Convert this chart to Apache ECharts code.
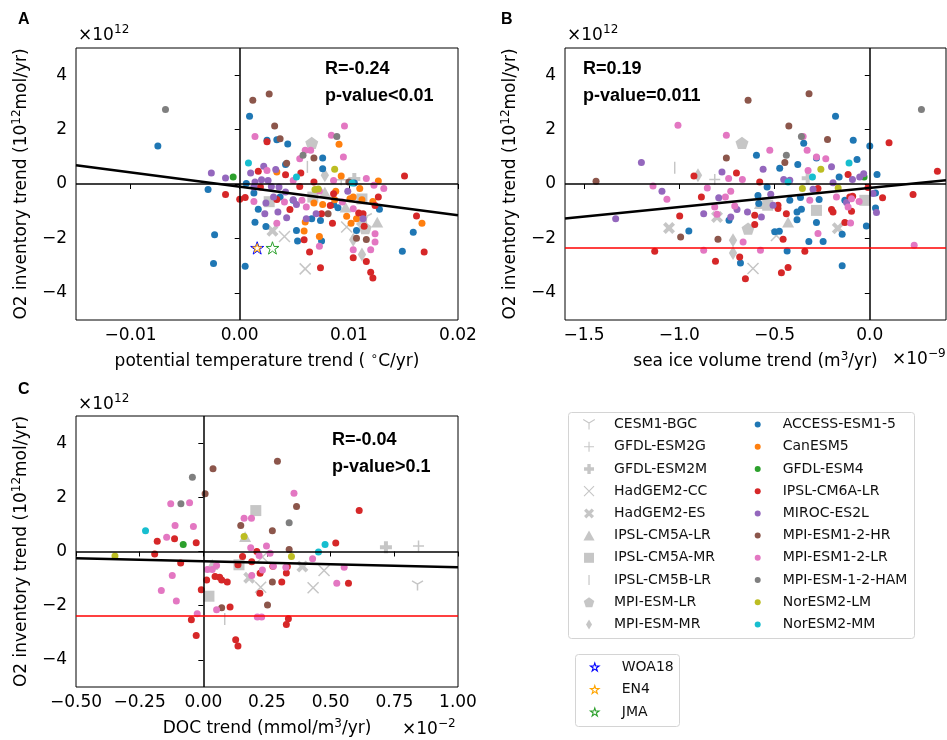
<!DOCTYPE html>
<html><head><meta charset="utf-8">
<script src="https://cdn.jsdelivr.net/npm/echarts@6/dist/echarts.min.js"></script>
<style>html,body{margin:0;padding:0;background:#fff}#chart{width:947px;height:740px}</style>
</head><body><div id="chart"></div>
<script>
// ---------- axes / ticks ----------
const xRangeA = [-0.015, 0.02];
const xRangeB = [-1.6, 0.4];
const xRangeC = [-0.5, 1.0];
const yRange = [-5, 5];
const xTicksA = [-0.01, 0.00, 0.01, 0.02];
const xTicksB = [-1.5, -1.0, -0.5, 0.0];
const xTicksC = [-0.50, -0.25, 0.00, 0.25, 0.50, 0.75, 1.00];
const yTicks = [-4, -2, 0, 2, 4];

// ---------- statistics & fits ----------
const statsA = ['R=-0.24', 'p-value<0.01'];
const statsB = ['R=0.19', 'p-value=0.011'];
const statsC = ['R=-0.04', 'p-value>0.1'];
const fitA = [[-0.015, 0.69], [0.02, -1.15]];
const fitB = [[-1.6, -1.27], [0.4, 0.14]];
const fitC = [[-0.5, -0.25], [1.0, -0.58]];
const obsO2Trend = -2.36;

// ---------- legend names ----------
const cmip5Names = ['CESM1-BGC','GFDL-ESM2G','GFDL-ESM2M','HadGEM2-CC','HadGEM2-ES','IPSL-CM5A-LR','IPSL-CM5A-MR','IPSL-CM5B-LR','MPI-ESM-LR','MPI-ESM-MR'];
const cmip6Names = ['ACCESS-ESM1-5','CanESM5','GFDL-ESM4','IPSL-CM6A-LR','MIROC-ES2L','MPI-ESM1-2-HR','MPI-ESM1-2-LR','MPI-ESM-1-2-HAM','NorESM2-LM','NorESM2-MM'];
const obsNames = ['WOA18','EN4','JMA'];

// ---------- panel A (potential temperature trend) ----------
const A_CESM = [[0.0116,-1.26]];
const A_GFDL2G = [[0.0093,0.16]];
const A_GFDL2M = [[0.0105,0.18]];
const A_HADCC = [[0.0041,-1.93],[0.0060,-3.12],[0.0098,-1.58]];
const A_HADES = [[0.0030,-1.72],[0.0112,-1.35]];
const A_CM5ALR = [[0.0126,-1.40],[0.0097,-0.85],[0.0078,-0.30]];
const A_CM5AMR = [[0.0067,-0.48],[0.0112,-0.55],[0.0027,-0.65]];
const A_CM5BLR = [[0.0062,0.63]];
const A_MPIESMLR = [[0.0066,1.51],[0.0115,-1.62]];
const A_MPIESMMR = [[0.0078,0.32],[0.0104,-2.05],[0.0112,-2.59]];
const A_ACCESS = [[-0.0075,1.40],[-0.0029,-0.20],[-0.0023,-1.87],[-0.0024,-2.92],[0.0009,2.49],[0.0025,1.61],[0.0034,1.63],[0.0044,1.47],[0.0005,-3.02],[0.0014,-1.41],[0.0017,-0.93],[0.0024,-1.56],[0.0013,-0.33],[0.0006,0.02],[0.0052,-1.71],[0.0053,-2.10],[0.0076,0.96],[0.0076,0.56],[0.0074,-1.34],[0.0075,-2.10],[0.0107,-1.71],[0.0128,-0.93],[0.0149,-2.47],[0.0159,-1.77],[0.0042,0.72],[0.0066,-1.28],[0.0086,-0.75],[0.0105,0.04],[0.0049,-0.60],[0.0037,-0.48],[0.0090,-0.87]];
const A_CAN = [[0.0091,1.46],[0.0093,0.29],[0.0127,0.11],[0.0167,-1.44],[0.0059,-1.73],[0.0073,-1.93],[0.0060,-1.40],[0.0068,-0.70],[0.0076,-0.75],[0.0088,-0.27],[0.0098,-1.19],[0.0102,-1.44],[0.0110,-0.17],[0.0104,-0.48],[0.0112,-0.58],[0.0107,-1.28],[0.0034,0.44],[0.0087,-0.58],[0.0122,-0.64],[0.0101,-0.54]];
const A_GFDL4 = [[-0.0006,0.26]];
const A_IPSL6 = [[-0.0013,-0.39],[0.0000,-0.56],[0.0005,-0.50],[0.0017,0.47],[0.0025,1.55],[0.0042,0.34],[0.0056,0.40],[0.0068,0.07],[0.0151,0.29],[0.0162,-1.18],[0.0169,-2.50],[0.0127,-0.48],[0.0109,-1.07],[0.0114,-1.55],[0.0116,-2.85],[0.0120,-3.24],[0.0122,-3.46],[0.0104,-2.71],[0.0074,-3.08],[0.0064,-2.50],[0.0059,-2.05],[0.0085,-1.44],[0.0083,-0.79],[0.0034,-0.57],[0.0046,-0.94],[0.0055,-0.09],[0.0075,-1.09],[0.0124,-0.79],[0.0019,-0.11],[0.0113,-1.09],[0.0086,-0.36]];
const A_MIROC = [[-0.0026,0.40],[-0.0013,0.22],[0.0010,0.40],[0.0022,0.65],[0.0033,0.53],[0.0014,0.07],[0.0020,0.16],[0.0026,0.13],[0.0029,-0.09],[0.0036,-0.11],[0.0042,-0.29],[0.0031,-0.48],[0.0024,-0.70],[0.0023,-1.09],[0.0035,-1.03],[0.0043,-1.24],[0.0049,-0.58],[0.0052,-0.75],[0.0061,-1.28],[0.0070,-1.09],[0.0099,-0.27],[0.0113,-1.28],[0.0013,-0.11]];
const A_MPIHR = [[0.0012,3.08],[0.0027,3.31],[0.0032,2.13],[0.0037,1.66],[0.0043,0.76],[0.0068,0.96],[0.0107,-1.99],[0.0116,-2.04],[0.0100,0.07],[0.0081,-1.09]];
const A_MPILR = [[0.0014,1.75],[0.0096,2.13],[0.0084,1.79],[0.0095,0.99],[0.0060,1.24],[0.0065,1.24],[0.0055,0.93],[0.0013,-0.64],[0.0041,-0.66],[0.0057,-0.60],[0.0073,-0.26],[0.0094,-0.66],[0.0116,0.20],[0.0132,-0.17],[0.0123,-0.05],[0.0073,-2.29],[0.0104,-2.42],[0.0120,-2.42],[0.0124,-1.83],[0.0104,-0.91],[0.0034,-1.44],[0.0025,0.50],[0.0049,0.13],[0.0086,0.13],[0.0061,-0.85],[0.0124,-2.13]];
const A_HAM = [[-0.0068,2.74],[0.0089,1.75],[0.0058,1.06]];
const A_NORLM = [[0.0087,0.54],[0.0069,-0.20],[0.0072,-0.18]];
const A_NORMM = [[0.0008,0.77],[0.0052,0.26],[0.0103,0.04]];
const A_WOA18 = [[0.0016,-2.35]];
const A_EN4 = [[0.0016,-2.35]];
const A_JMA = [[0.0030,-2.35]];

// ---------- panel B (sea ice volume trend) ----------
const B_GFDL2G = [[-0.814,0.17]];
const B_GFDL2M = [[-0.326,0.21]];
const B_HADCC = [[-0.613,-3.11],[-0.49,-1.89]];
const B_HADES = [[-1.054,-1.62],[-0.802,-1.21],[-0.168,-1.63]];
const B_CM5ALR = [[-0.429,-1.40],[-0.577,-0.72]];
const B_CM5AMR = [[-0.28,-0.97],[-0.026,-0.6],[-0.536,-0.78]];
const B_CM5BLR = [[-1.024,0.6]];
const B_MPIESMLR = [[-0.671,1.51],[-0.639,-1.64]];
const B_MPIESMMR = [[-0.902,0.32],[-0.718,-2.07],[-0.718,-2.54]];
const B_ACCESS = [[-0.18,2.49],[-0.087,1.61],[0,1.40],[-0.347,1.50],[-0.595,1.06],[-0.378,0.72],[-0.473,0.58],[-0.28,0.96],[-0.067,0.90],[-0.161,0.26],[0.038,0.35],[-0.539,-0.11],[-0.587,-0.42],[-0.42,-0.6],[-0.364,-0.5],[-0.266,-0.57],[-0.359,-0.93],[-0.382,-1.03],[-0.131,-0.6],[0.03,-0.33],[0.03,-0.88],[-0.018,-1.54],[-0.145,-1.85],[-0.28,-1.42],[-0.382,-1.31],[-0.499,-1.76],[-0.475,-1.74],[-0.32,-2.11],[-0.245,-2.11],[-0.434,-2.46],[-0.145,-3.01],[-0.583,-0.72],[-0.95,-1.73],[-0.739,-1.33],[-0.679,-2.9]];
const B_GFDL4 = [[-0.03,0.26]];
const B_IPSL6 = [[0.101,1.52],[0.355,0.47],[0.227,-0.39],[0.067,-0.51],[-0.114,0.35],[-0.578,0.07],[-0.482,-0.78],[-0.482,-0.90],[-0.438,-1.09],[-0.604,-1.15],[-0.604,-1.49],[-0.455,-2.03],[-0.341,-2.47],[-0.464,-3.26],[-0.429,-3.07],[-0.272,-0.17],[-0.201,-0.94],[-0.193,-1.03],[-0.105,-0.48],[-0.131,-1.42],[-0.096,-1.0],[-0.923,0.29],[-0.884,-0.48],[-0.70,0.40],[-0.998,-1.18],[-1.129,-2.47],[-0.81,-2.84],[-0.683,-2.68],[-0.653,-3.48],[-0.009,-0.13],[-0.09,-0.45]];
const B_MIROC = [[-0.56,0.54],[-0.201,0.63],[-0.452,0.17],[-0.42,0.14],[-0.091,0.17],[-0.053,0.26],[-0.032,0.38],[-0.193,0.05],[-0.52,-0.38],[-0.569,-1.21],[-0.508,-0.78],[-0.298,-0.19],[0.017,-0.35],[0.035,-1.05],[-0.122,-0.68],[-1.199,0.79],[-1.091,-0.27],[-0.776,0.44],[-0.793,-0.51],[-0.872,-1.09],[-0.73,-1.21],[-0.697,-0.94],[-0.642,-1.03],[-1.334,-1.28]];
const B_MPIHR = [[-1.437,0.10],[-0.639,3.08],[-0.319,3.32],[-0.425,2.13],[-0.222,1.64],[-0.446,0.79],[-0.753,0.96],[-0.993,-1.95],[-0.797,-2.03]];
const B_MPILR = [[-0.525,1.24],[-0.329,1.24],[-0.28,0.99],[-0.231,0.93],[-0.324,0.50],[-0.175,-0.48],[-0.315,-0.6],[-0.096,-0.54],[-0.056,-0.64],[-0.114,-0.85],[-0.101,-1.43],[-0.272,-1.82],[-0.574,-2.44],[0.233,-2.25],[-0.35,1.75],[-1.007,2.16],[-0.753,1.79],[-1.138,-0.07],[-1.065,-0.56],[-0.853,-0.15],[-0.741,0.2],[-0.669,0.17],[-0.73,-0.27],[-0.758,-0.48],[-0.814,-0.85],[-0.709,-0.81],[-0.665,-2.13],[-0.872,-2.44],[-0.802,-1.11]];
const B_HAM = [[0.271,2.74],[-0.359,1.75],[-0.438,1.06]];
const B_NORLM = [[-0.257,0.54],[-0.354,-0.17],[-0.166,-0.15]];
const B_NORMM = [[-0.109,0.77],[-0.301,0.26],[-0.429,0.07]];

// ---------- panel C (DOC trend) ----------
const C_CESM = [[0.841,-1.26]];
const C_GFDL2G = [[0.845,0.2]];
const C_GFDL2M = [[0.717,0.16]];
const C_HADCC = [[0.474,-0.70],[0.431,-1.34],[0.225,-1.32],[0.232,-0.2]];
const C_HADES = [[0.389,-0.55],[0.18,-0.97]];
const C_CM5ALR = [[0.164,0.55],[0.035,-0.48]];
const C_CM5AMR = [[0.206,1.51],[0.14,-0.49],[0.022,-1.65]];
const C_CM5BLR = [[0.084,-2.49]];
const C_GFDL4 = [[-0.079,0.26]];
const C_IPSL6 = [[-0.181,0.38],[-0.191,-0.09],[-0.113,0.47],[-0.089,-0.42],[-0.028,0.32],[-0.008,-1.41],[-0.047,-2.52],[-0.028,-3.10],[0.013,-1.05],[0.046,-0.92],[0.064,-0.95],[0.072,-1.05],[0.094,-1.13],[0.136,-0.49],[0.154,-0.18],[0.105,-2.05],[0.127,-3.26],[0.136,-3.49],[0.21,0.0],[0.223,-0.80],[0.222,-1.54],[0.273,-0.54],[0.308,-1.13],[0.326,-0.79],[0.33,-0.55],[0.334,-2.48],[0.326,-2.69],[0.52,0.31],[0.57,-1.17],[0.612,1.51],[0.19,-0.38]];
const C_MPIHR = [[0.038,3.05],[0.291,3.33],[0.007,2.13],[0.366,1.66],[0.147,0.96],[0.271,0.77],[0.337,0.07],[0.271,-1.13],[0.252,-1.97],[0.072,-2.08]];
const C_MPILR = [[-0.128,1.76],[-0.054,1.80],[-0.111,0.96],[-0.039,0.92],[-0.144,0.53],[-0.122,-0.89],[-0.165,-1.44],[-0.106,-1.83],[-0.024,-2.30],[0.356,2.15],[0.16,1.23],[0.189,1.23],[0.186,0.14],[0.248,0.2],[0.262,-0.06],[0.219,-0.15],[0.232,-0.68],[0.19,-0.89],[0.275,-0.54],[0.324,-0.58],[0.429,-0.27],[0.524,-1.17],[0.553,-0.58],[0.016,-0.66],[0.035,-0.66],[0.052,-0.52],[0.052,-2.15],[0.212,-2.42],[0.229,-2.42]];
const C_HAM = [[-0.043,2.74],[-0.088,1.76],[0.337,1.06]];
const C_NORLM = [[-0.347,-0.17],[0.16,0.55],[0.346,-0.18]];
const C_NORMM = [[-0.227,0.77],[0.478,0.26],[0.452,-0.02]];

// ---------- tables built from the arrays ----------
const panelData = [
  {'CESM1-BGC':A_CESM,'GFDL-ESM2G':A_GFDL2G,'GFDL-ESM2M':A_GFDL2M,'HadGEM2-CC':A_HADCC,'HadGEM2-ES':A_HADES,'IPSL-CM5A-LR':A_CM5ALR,'IPSL-CM5A-MR':A_CM5AMR,'IPSL-CM5B-LR':A_CM5BLR,'MPI-ESM-LR':A_MPIESMLR,'MPI-ESM-MR':A_MPIESMMR,
   'ACCESS-ESM1-5':A_ACCESS,'CanESM5':A_CAN,'GFDL-ESM4':A_GFDL4,'IPSL-CM6A-LR':A_IPSL6,'MIROC-ES2L':A_MIROC,'MPI-ESM1-2-HR':A_MPIHR,'MPI-ESM1-2-LR':A_MPILR,'MPI-ESM-1-2-HAM':A_HAM,'NorESM2-LM':A_NORLM,'NorESM2-MM':A_NORMM,
   'EN4':A_EN4,'WOA18':A_WOA18,'JMA':A_JMA},
  {'GFDL-ESM2G':B_GFDL2G,'GFDL-ESM2M':B_GFDL2M,'HadGEM2-CC':B_HADCC,'HadGEM2-ES':B_HADES,'IPSL-CM5A-LR':B_CM5ALR,'IPSL-CM5A-MR':B_CM5AMR,'IPSL-CM5B-LR':B_CM5BLR,'MPI-ESM-LR':B_MPIESMLR,'MPI-ESM-MR':B_MPIESMMR,
   'ACCESS-ESM1-5':B_ACCESS,'GFDL-ESM4':B_GFDL4,'IPSL-CM6A-LR':B_IPSL6,'MIROC-ES2L':B_MIROC,'MPI-ESM1-2-HR':B_MPIHR,'MPI-ESM1-2-LR':B_MPILR,'MPI-ESM-1-2-HAM':B_HAM,'NorESM2-LM':B_NORLM,'NorESM2-MM':B_NORMM},
  {'CESM1-BGC':C_CESM,'GFDL-ESM2G':C_GFDL2G,'GFDL-ESM2M':C_GFDL2M,'HadGEM2-CC':C_HADCC,'HadGEM2-ES':C_HADES,'IPSL-CM5A-LR':C_CM5ALR,'IPSL-CM5A-MR':C_CM5AMR,'IPSL-CM5B-LR':C_CM5BLR,
   'GFDL-ESM4':C_GFDL4,'IPSL-CM6A-LR':C_IPSL6,'MPI-ESM1-2-HR':C_MPIHR,'MPI-ESM1-2-LR':C_MPILR,'MPI-ESM-1-2-HAM':C_HAM,'NorESM2-LM':C_NORLM,'NorESM2-MM':C_NORMM}
];
const fits = [fitA, fitB, fitC];
const stats = [statsA, statsB, statsC];

// ---------- styles ----------
const FONT = 'DejaVu Sans';
const GRAY = '#c6c6c6';
const SYM = {
  triDown: 'path://M0,0L0,6M0,0L-5.2,-3M0,0L5.2,-3',
  plus: 'path://M-5,0L5,0M0,-5L0,5',
  plusFilled: 'path://M-2,-6H2V-2H6V2H2V6H-2V2H-6V-2H-2Z',
  x: 'path://M-5,-5L5,5M-5,5L5,-5',
  xFilled: 'path://M2.97,-5.52L5.52,-2.97L2.55,0L5.52,2.97L2.97,5.52L0,2.55L-2.97,5.52L-5.52,2.97L-2.55,0L-5.52,-2.97L-2.97,-5.52L0,-2.55Z',
  vline: 'path://M-0.6,-5L0.6,-5L0.6,5L-0.6,5Z',
  triangle: 'path://M0,-5L5,4L-5,4Z',
  square: 'path://M-5,-5H5V5H-5Z',
  pentagon: 'path://M0,-5L4.76,-1.55L2.94,4.05L-2.94,4.05L-4.76,-1.55Z',
  thinDiamond: 'path://M0,-6L3.6,0L0,6L-3.6,0Z',
  star: 'path://M0,-5L1.12,-1.54L4.76,-1.55L1.81,0.59L2.94,4.05L0,1.9L-2.94,4.05L-1.81,0.59L-4.76,-1.55L-1.12,-1.54Z'
};
const style = {
  'CESM1-BGC': {symbol: SYM.triDown, size: 11, stroke: GRAY},
  'GFDL-ESM2G': {symbol: SYM.plus, size: 11, stroke: GRAY},
  'GFDL-ESM2M': {symbol: SYM.plusFilled, size: 12, fill: GRAY},
  'HadGEM2-CC': {symbol: SYM.x, size: 11, stroke: GRAY},
  'HadGEM2-ES': {symbol: SYM.xFilled, size: 12, fill: GRAY},
  'IPSL-CM5A-LR': {symbol: SYM.triangle, size: 12, fill: GRAY},
  'IPSL-CM5A-MR': {symbol: SYM.square, size: 11, fill: GRAY},
  'IPSL-CM5B-LR': {symbol: SYM.vline, size: 12, fill: GRAY},
  'MPI-ESM-LR': {symbol: SYM.pentagon, size: 13, fill: GRAY},
  'MPI-ESM-MR': {symbol: SYM.thinDiamond, size: 14, fill: GRAY},
  'ACCESS-ESM1-5': {symbol: 'circle', size: 7, fill: '#1f77b4'},
  'CanESM5': {symbol: 'circle', size: 7, fill: '#ff7f0e'},
  'GFDL-ESM4': {symbol: 'circle', size: 7, fill: '#2ca02c'},
  'IPSL-CM6A-LR': {symbol: 'circle', size: 7, fill: '#d62728'},
  'MIROC-ES2L': {symbol: 'circle', size: 7, fill: '#9467bd'},
  'MPI-ESM1-2-HR': {symbol: 'circle', size: 7, fill: '#8c564b'},
  'MPI-ESM1-2-LR': {symbol: 'circle', size: 7, fill: '#e377c2'},
  'MPI-ESM-1-2-HAM': {symbol: 'circle', size: 7, fill: '#7f7f7f'},
  'NorESM2-LM': {symbol: 'circle', size: 7, fill: '#bcbd22'},
  'NorESM2-MM': {symbol: 'circle', size: 7, fill: '#17becf'},
  'WOA18': {symbol: SYM.star, size: 13, stroke: '#0000ff', lw: 1},
  'EN4': {symbol: SYM.star, size: 9, stroke: '#ffa500', lw: 1},
  'JMA': {symbol: SYM.star, size: 13, stroke: '#2ca02c', lw: 1}
};
const itemStyleOf = (s) => s.stroke
  ? {color: 'rgba(0,0,0,0)', borderColor: s.stroke, borderWidth: s.lw || 1.5, opacity: 1}
  : {color: s.fill, borderWidth: 0, opacity: 1};

const fmt = (v, d) => (v < 0 ? '\u2212' : '') + Math.abs(v).toFixed(d);

// ---------- grids / axes ----------
const grids = [
  {left: 76, top: 48, width: 382, height: 272},
  {left: 565, top: 48, width: 381, height: 272},
  {left: 76, top: 416, width: 382, height: 271}
].map(g => Object.assign(g, {show: true, borderColor: '#000', borderWidth: 1, backgroundColor: 'rgba(0,0,0,0)'}));

const supRich = {sup: {fontSize: 12, fontFamily: FONT, color: '#000', padding: [0, 0, 9, 0]}};
const nameStyle = {fontFamily: FONT, fontSize: 17, color: '#000', rich: supRich};
const xDefs = [
  {range: xRangeA, ticks: xTicksA, dec: 2, name: 'potential temperature trend ( {sup|\u2218}C/yr)'},
  {range: xRangeB, ticks: xTicksB, dec: 1, name: 'sea ice volume trend (m{sup|3}/yr)'},
  {range: xRangeC, ticks: xTicksC, dec: 2, name: 'DOC trend (mmol/m{sup|3}/yr)'}
];
const xAxes = xDefs.map((d, i) => ({
  type: 'value', gridIndex: i, min: d.range[0], max: d.range[1],
  axisLine: {show: false}, splitLine: {show: false},
  axisTick: {show: true, inside: false, length: 5, lineStyle: {color: '#000', width: 1}, customValues: d.ticks},
  axisLabel: {customValues: d.ticks, formatter: v => fmt(v, d.dec), fontFamily: FONT, fontSize: 17, color: '#000', margin: 7},
  name: d.name, nameLocation: 'middle', nameGap: 31, nameTextStyle: nameStyle
}));
const yAxes = [0, 1, 2].map(i => ({
  type: 'value', gridIndex: i, min: yRange[0], max: yRange[1],
  axisLine: {show: false}, splitLine: {show: false},
  axisTick: {show: true, inside: false, length: 5, lineStyle: {color: '#000', width: 1}, customValues: yTicks},
  axisLabel: {customValues: yTicks, formatter: v => fmt(v, 0), fontFamily: FONT, fontSize: 17, color: '#000', margin: 9},
  name: 'O2 inventory trend (10{sup|12}mol/yr)', nameLocation: 'middle', nameRotate: 90, nameGap: 44, nameTextStyle: nameStyle
}));

// ---------- series ----------
const series = [];
[0, 1, 2].forEach(p => {
  const ml = [{xAxis: 0}, {yAxis: 0}];
  if (p > 0) ml.push({yAxis: obsO2Trend, lineStyle: {color: '#ff0000', width: 1.6}});
  series.push({
    type: 'line', xAxisIndex: p, yAxisIndex: p, data: [], silent: true, z: 1,
    markLine: {symbol: ['none', 'none'], silent: true, label: {show: false}, animation: false,
      lineStyle: {color: '#000', width: 1.5, type: 'solid'}, emphasis: {disabled: true}, data: ml}
  });
  const order = cmip5Names.concat(cmip6Names, obsNames);
  order.forEach(name => {
    const d = panelData[p][name];
    if (!d) return;
    const s = style[name];
    series.push({
      type: 'scatter', name: name, xAxisIndex: p, yAxisIndex: p, data: d,
      symbol: s.symbol, symbolSize: s.size, symbolKeepAspect: true,
      itemStyle: itemStyleOf(s), z: 2, silent: true, emphasis: {disabled: true}
    });
  });
  series.push({
    type: 'line', xAxisIndex: p, yAxisIndex: p, data: fits[p], symbol: 'none', silent: true, z: 3,
    lineStyle: {color: '#000', width: 2.6}
  });
});

// ---------- legends ----------
const legendText = {fontFamily: FONT, fontSize: 14, color: '#111', lineHeight: 16};
const legItem = name => {
  const s = style[name];
  return s.stroke ? {name: name, itemStyle: {color: 'rgba(0,0,0,0)', borderColor: s.stroke, borderWidth: 1.1, opacity: 1}}
                  : {name: name, itemStyle: {opacity: 1}};
};
const legends = [
  {data: cmip5Names.map(legItem), left: 582.7, top: 416.6, itemWidth: 40, itemHeight: 10, itemGap: 6.2},
  {data: cmip6Names.map(legItem), left: 754.7, top: 416.6, itemWidth: 40, itemHeight: 6, itemGap: 6.2},
  {data: obsNames.map(legItem), left: 590, top: 659, itemWidth: 44, itemHeight: 8, itemGap: 6.5}
].map(l => Object.assign(l, {orient: 'vertical', padding: 0, textStyle: legendText, selectedMode: false, symbolKeepAspect: true}));

// ---------- annotations ----------
const graphics = [];
const txt = (x, y, text, opt) => graphics.push({type: 'text', x: x, y: y, silent: true,
  style: Object.assign({text: text, fill: '#000', verticalAlign: 'middle', align: 'left'}, opt)});
txt(18, 20, 'A', {font: 'bold 16px "Liberation Sans"'});
txt(501, 20, 'B', {font: 'bold 16px "Liberation Sans"'});
txt(18, 390, 'C', {font: 'bold 16px "Liberation Sans"'});
// offset exponents
[[78, 36], [567, 36], [78, 405]].forEach(([x, y]) => {
  txt(x, y, '\u00d710', {font: '17px "DejaVu Sans"'});
  txt(x + 36, y - 6, '12', {font: '12px "DejaVu Sans"'});
});
txt(892, 360, '\u00d710', {font: '17px "DejaVu Sans"'});
txt(928, 354, '\u22129', {font: '12px "DejaVu Sans"'});
txt(402, 730, '\u00d710', {font: '17px "DejaVu Sans"'});
txt(438, 724, '\u22122', {font: '12px "DejaVu Sans"'});
// statistics
[[325, 69], [583, 69], [332, 440]].forEach(([x, y], i) => {
  txt(x, y, stats[i][0], {font: 'bold 18px "Liberation Sans"'});
  txt(x, y + 27, stats[i][1], {font: 'bold 18px "Liberation Sans"'});
});
// legend frames
graphics.push({type: 'rect', silent: true, z: 0, shape: {x: 568.5, y: 412.5, width: 346, height: 226, r: 3},
  style: {fill: '#fff', stroke: '#d4d4d4', lineWidth: 1}});
graphics.push({type: 'rect', silent: true, z: 0, shape: {x: 575.5, y: 654.5, width: 104, height: 72, r: 3},
  style: {fill: '#fff', stroke: '#d4d4d4', lineWidth: 1}});

const chart = echarts.init(document.getElementById('chart'), null, {renderer: 'canvas'});
chart.setOption({
  animation: false,
  backgroundColor: '#fff',
  grid: grids, xAxis: xAxes, yAxis: yAxes,
  legend: legends, series: series, graphic: graphics
});
</script></body></html>
